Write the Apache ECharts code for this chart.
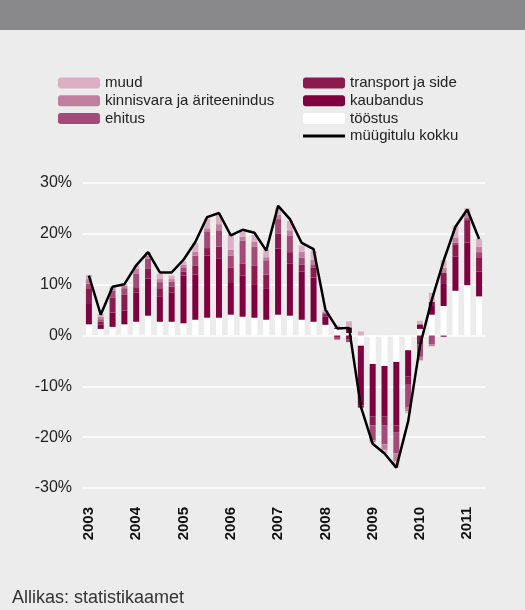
<!DOCTYPE html>
<html>
<head>
<meta charset="utf-8">
<script src="https://cdn.jsdelivr.net/npm/echarts@6/dist/echarts.min.js"></script>
<style>
  html, body { margin: 0; padding: 0; background: #ebeceb; }
  #chart { width: 525px; height: 610px; }
</style>
</head>
<body>
<div id="chart"></div>
<script>
// kvartalid 2003 I ... 2011 II
var years = ['2003', '2004', '2005', '2006', '2007', '2008', '2009', '2010', '2011'];
var quarterNames = ['I', 'II', 'III', 'IV'];
var categories = [];
years.forEach(function (y) {
  quarterNames.forEach(function (q) { categories.push(y + ' ' + q); });
});
categories = categories.slice(0, 34);

// panused, protsendipunktides
var toostus = [2.2, 1.3, 1.7, 2.2, 2.7, 3.9, 2.7, 2.7, 2.4, 3.1, 3.5, 3.5, 4.1, 3.7, 3.5, 3.1, 4.1, 3.9, 3.1, 2.7, 2.1, 1.3, 0.5, -2.0, -5.6, -6.0, -5.2, -2.9, 1.3, 4.1, 5.8, 8.8, 9.9, 7.7];
var kaubandus = [4.0, 0.9, 2.8, 2.7, 5.8, 7.3, 4.9, 5.8, 9.4, 8.9, 12.2, 11.7, 6.4, 8.1, 6.6, 6.2, 13.0, 10.3, 9.5, 8.7, 1.6, 0.2, 1.1, -11.8, -10.3, -9.9, -12.5, -5.1, 0.9, 1.7, 4.5, 6.7, 8.4, 4.9];
var transport = [3.1, 0.5, 3.0, 3.1, 1.0, 1.9, 1.7, 1.1, 0.8, 1.8, 1.5, 2.3, 2.9, 2.3, 3.7, 2.7, 2.9, 2.2, 1.3, 2.0, 0.5, -0.3, -0.7, -0.4, -1.8, -1.8, -1.3, -1.7, -1.7, 0.8, 2.0, 2.3, 4.4, 2.8];
var ehitus = [0.9, 0.5, 1.3, 1.3, 2.7, 2.0, 1.2, 1.0, 0.8, 1.9, 3.3, 3.2, 2.3, 4.6, 3.7, 2.8, 2.9, 3.3, 1.4, 0.6, 0.2, -0.5, -0.6, 0, -2.9, -3.7, -4.2, -4.5, -2.5, -1.7, -0.3, 0.5, 0.4, 1.0];
var kinnisvara = [0.9, 0.5, 0.5, 0.5, 0.9, 0.6, 0.6, 0.5, 0.5, 0.8, 0.6, 1.2, 1.2, 0.7, 0.9, 0.6, 0.9, 1.0, 1.2, 0.9, 0.2, 0, 0, 0, -0.4, -1.1, -1.5, -0.7, -0.7, -0.4, 1.0, 1.0, 0.8, 1.0];
var muud = [0.8, 0.5, 0.3, 0.3, 0.7, 0.7, 1.0, 0.7, 0.7, 1.7, 1.9, 1.8, 3.1, 1.0, 1.4, 1.5, 1.2, 1.8, 1.2, 1.8, 0.4, 0.5, 1.2, 0.8, -0.2, -0.7, -1.3, -0.4, 0.7, 1.8, 1.5, 2.3, 1.1, 1.6];
// müügitulu muutus kokku, %
var kokku = [11.8, 4.1, 9.6, 10.1, 13.8, 16.4, 12.4, 12.4, 14.9, 18.4, 23.3, 24.1, 19.7, 20.8, 20.2, 16.7, 25.5, 22.9, 18.2, 17.0, 5.1, 1.4, 1.5, -14.0, -21.3, -23.2, -26.0, -16.9, -2.0, 7.0, 14.7, 21.4, 24.8, 19.0];

var font = 'Liberation Sans, Arial, Helvetica, sans-serif';

function barSeries(name, data, color) {
  return {
    name: name,
    type: 'bar',
    stack: 'kokku',
    barWidth: 6,
    data: data,
    itemStyle: { color: color },
    emphasis: { disabled: true }
  };
}

var legendText = { fontFamily: font, fontSize: 15, color: '#222', lineHeight: 15 };

var chart = echarts.init(document.getElementById('chart'));
chart.setOption({
  backgroundColor: '#ebeceb',
  animation: false,
  graphic: [{
    type: 'rect',
    left: 0, top: 0,
    shape: { width: 525, height: 30 },
    style: { fill: '#89898b' }
  }],
  title: {
    text: 'Allikas: statistikaamet',
    left: 12,
    bottom: 3,
    padding: 0,
    textStyle: { fontFamily: font, fontSize: 18, fontWeight: 'normal', color: '#333' }
  },
  legend: [{
    data: ['muud', 'kinnisvara ja äriteenindus', 'ehitus'],
    orient: 'vertical',
    left: 58, top: 75.5, padding: 0,
    itemWidth: 42, itemHeight: 11, itemGap: 2.7,
    textStyle: legendText,
    selectedMode: false
  }, {
    data: ['transport ja side', 'kaubandus', 'tööstus',
      { name: 'müügitulu kokku', icon: 'path://M0,0H42V3H0Z', itemStyle: { color: '#000' } }],
    orient: 'vertical',
    left: 303, top: 75.5, padding: 0,
    itemWidth: 42, itemHeight: 11, itemGap: 2.7,
    textStyle: legendText,
    selectedMode: false
  }],
  grid: { left: 83, right: 40, top: 183, bottom: 122 },
  xAxis: {
    type: 'category',
    data: categories,
    axisLine: { show: false, onZero: false },
    axisTick: { show: false },
    axisLabel: {
      interval: 0,
      rotate: 90,
      margin: 19,
      fontFamily: font,
      fontSize: 15,
      fontWeight: 'bold',
      color: '#111',
      formatter: function (v, i) { return i % 4 === 0 ? v.split(' ')[0] : ''; }
    },
    splitLine: { show: false }
  },
  yAxis: {
    type: 'value',
    min: -30, max: 30, interval: 10,
    axisLine: { show: false },
    axisTick: { show: false },
    axisLabel: {
      formatter: '{value}%',
      margin: 11,
      fontFamily: font,
      fontSize: 16,
      color: '#222'
    },
    splitLine: { lineStyle: { color: '#ffffff', width: 1.5 } }
  },
  series: [
    barSeries('tööstus', toostus, '#ffffff'),
    barSeries('kaubandus', kaubandus, '#7f003f'),
    barSeries('transport ja side', transport, '#8b1a4f'),
    barSeries('ehitus', ehitus, '#a34a78'),
    barSeries('kinnisvara ja äriteenindus', kinnisvara, '#c07f9e'),
    barSeries('muud', muud, '#dbb0c6'),
    {
      name: 'müügitulu kokku',
      type: 'line',
      data: kokku,
      symbol: 'none',
      z: 10,
      lineStyle: { color: '#000000', width: 2.5 },
      itemStyle: { color: '#000000' },
      emphasis: { disabled: true }
    }
  ]
});
</script>
</body>
</html>
